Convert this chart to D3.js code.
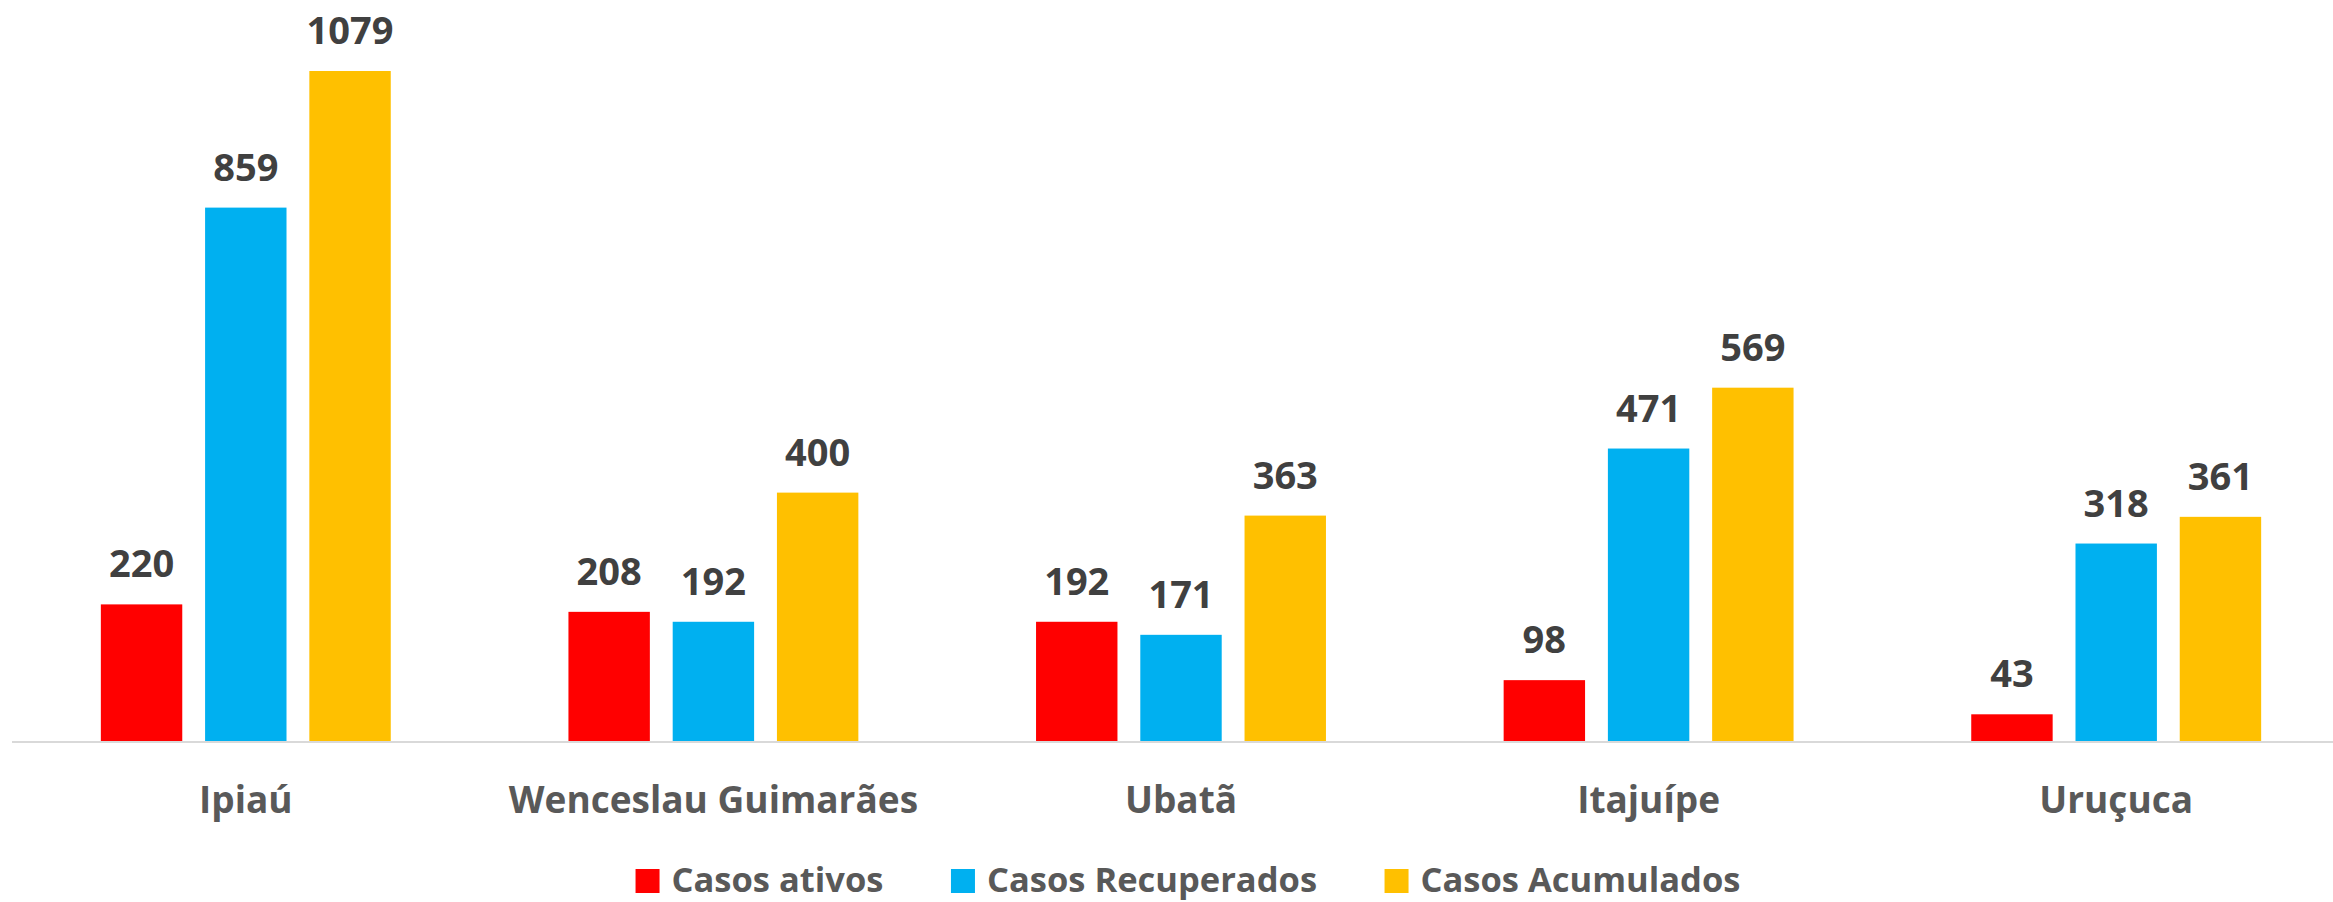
<!DOCTYPE html>
<html><head><meta charset="utf-8">
<script src="https://cdn.jsdelivr.net/npm/d3@7"></script>
<style>html,body{margin:0;padding:0;background:#fff;}svg{display:block;}</style>
</head><body>
<svg id="chart" width="2333" height="902"></svg>
<script>
const categories = ["Ipiaú", "Wenceslau Guimarães", "Ubatã", "Itajuípe", "Uruçuca"];
const seriesNames = ["Casos ativos", "Casos Recuperados", "Casos Acumulados"];
const ativos = [220, 208, 192, 98, 43];
const recuperados = [859, 192, 171, 471, 318];
const acumulados = [1079, 400, 363, 569, 361];
const colors = ["#FF0000", "#00B0F0", "#FFC000"];

const seriesValues = [ativos, recuperados, acumulados];
const data = categories.map((c, i) => ({
  cat: c,
  vals: seriesNames.map((s, j) => ({ series: s, value: seriesValues[j][i], color: colors[j] }))
}));

const svg = d3.select("#chart");
const W = 2333, H = 902;
const baseY = 741;
const FONT = "'Open Sans', 'DejaVu Sans', sans-serif";

const x0 = d3.scaleBand().domain(categories).range([12, 2350]).paddingInner(0.38).paddingOuter(0.19);
const x1 = d3.scaleBand().domain(seriesNames).range([0, x0.bandwidth()]).paddingInner(0.219).paddingOuter(0);
const y = d3.scaleLinear().domain([0, 1079]).range([baseY, 71]);

// axis line
svg.append("line")
  .attr("x1", 12).attr("x2", W).attr("y1", baseY + 1).attr("y2", baseY + 1)
  .attr("stroke", "#D9D9D9").attr("stroke-width", 2);

const groups = svg.selectAll("g.grp").data(data).join("g")
  .attr("class", "grp")
  .attr("transform", d => `translate(${x0(d.cat)},0)`);

groups.selectAll("rect").data(d => d.vals).join("rect")
  .attr("x", d => x1(d.series))
  .attr("y", d => y(d.value))
  .attr("width", x1.bandwidth())
  .attr("height", d => baseY - y(d.value))
  .attr("fill", d => d.color);

groups.selectAll("text.val").data(d => d.vals).join("text")
  .attr("class", "val")
  .attr("x", d => x1(d.series) + x1.bandwidth() / 2)
  .attr("y", d => y(d.value) - 27)
  .attr("text-anchor", "middle")
  .attr("font-family", FONT)
  .attr("font-weight", 700)
  .attr("font-size", 38)
  .attr("fill", "#404040")
  .text(d => d.value);

// category axis labels
svg.selectAll("text.cat").data(categories).join("text")
  .attr("class", "cat")
  .attr("x", d => x0(d) + x0.bandwidth() / 2)
  .attr("y", 812.5)
  .attr("text-anchor", "middle")
  .attr("font-family", FONT)
  .attr("font-weight", 700)
  .attr("font-size", 37)
  .attr("fill", "#595959")
  .text(d => d);

// legend
const leg = svg.append("g");
const items = leg.selectAll("g").data(seriesNames).join("g");
items.append("rect").attr("width", 24).attr("height", 24).attr("y", 869)
  .attr("fill", (d, i) => colors[i]);
items.append("text").attr("x", 36).attr("y", 892)
  .attr("font-family", FONT).attr("font-weight", 700).attr("font-size", 34.5)
  .attr("fill", "#595959").text(d => d);
let widths = [];
items.each(function(){ widths.push(d3.select(this).select("text").node().getComputedTextLength()); });
const gap = 67.5;
const total = widths.reduce((a, w) => a + 36 + w, 0) + gap * (widths.length - 1);
let cx = 1188 - total / 2;
items.each(function(d, i){
  d3.select(this).attr("transform", `translate(${cx},0)`);
  cx += 36 + widths[i] + gap;
});
</script>
</body></html>
